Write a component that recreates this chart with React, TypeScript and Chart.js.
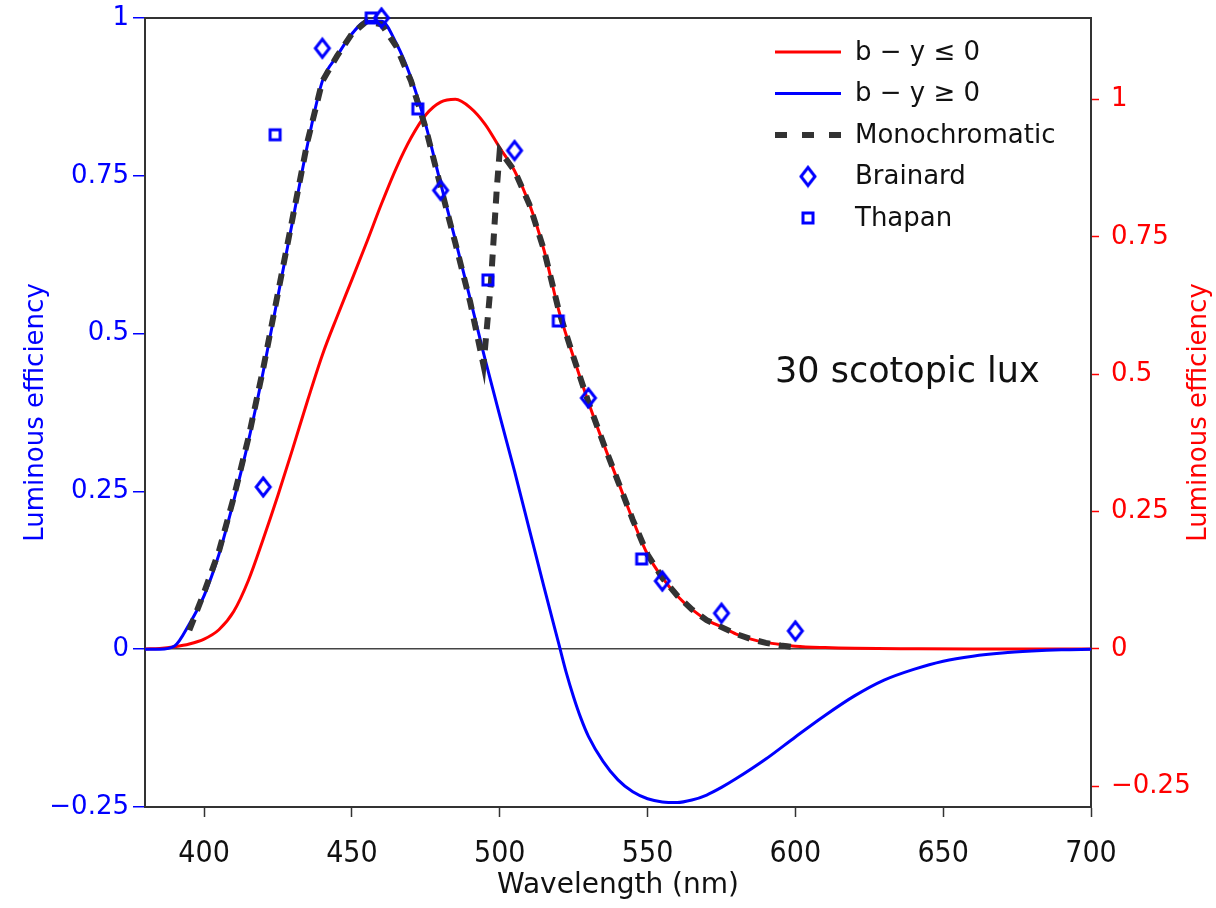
import React, { useEffect, useRef } from 'react';
import { Chart, registerables } from 'chart.js';
Chart.register(...registerables);

// ---- data ----
const blueWl = [380, 385, 390, 395, 400, 405, 410, 415, 420, 425, 430, 435, 440, 445, 450, 455, 460, 465, 470, 475, 480, 485, 490, 495, 500, 505, 510, 515, 520, 522.5, 525, 527.5, 530, 535, 540, 545, 550, 555, 560, 565, 570, 575, 580, 590, 600, 610, 620, 630, 640, 650, 660, 670, 680, 690, 700];
const blueVals = [0, 0, 0.005, 0.04, 0.085, 0.15, 0.235, 0.33, 0.44, 0.56, 0.68, 0.8, 0.9, 0.94, 0.975, 0.995, 0.995, 0.96, 0.905, 0.83, 0.738, 0.648, 0.555, 0.46, 0.37, 0.282, 0.19, 0.098, 0.008, -0.037, -0.076, -0.11, -0.138, -0.178, -0.207, -0.226, -0.237, -0.242, -0.243, -0.239, -0.231, -0.219, -0.205, -0.174, -0.139, -0.105, -0.074, -0.049, -0.032, -0.019, -0.011, -0.006, -0.003, -0.001, 0];

const redWl = [380, 385, 390, 395, 400, 405, 410, 415, 420, 425, 430, 435, 440, 445, 450, 455, 460, 465, 470, 475, 480, 485, 490, 495, 500, 505, 510, 515, 520, 525, 530, 535, 540, 545, 550, 555, 560, 565, 570, 575, 580, 585, 590, 595, 600, 610, 620, 640, 660, 680, 700];
const redVals = [0, 0.001, 0.004, 0.009, 0.018, 0.035, 0.068, 0.125, 0.2, 0.28, 0.365, 0.452, 0.535, 0.605, 0.672, 0.74, 0.81, 0.875, 0.93, 0.972, 0.995, 1.0, 0.985, 0.955, 0.912, 0.87, 0.81, 0.725, 0.615, 0.53, 0.449, 0.375, 0.305, 0.235, 0.172, 0.13, 0.097, 0.072, 0.053, 0.04, 0.027, 0.018, 0.012, 0.008, 0.005, 0.0025, 0.0012, 0.0004, 0, 0, 0];

const monoWl = [395, 400, 405, 410, 415, 420, 425, 430, 435, 440, 445, 450, 455, 460, 465, 470, 475, 480, 485, 490, 494.5, 497, 499, 500, 505, 510, 515, 520, 525, 530, 535, 540, 545, 550, 555, 560, 565, 570, 575, 580, 585, 590, 595, 600];
const monoVals = [0.03, 0.09, 0.155, 0.24, 0.335, 0.445, 0.565, 0.685, 0.805, 0.9, 0.94, 0.975, 0.995, 0.99, 0.955, 0.9, 0.825, 0.733, 0.643, 0.55, 0.45, 0.58, 0.73, 0.79, 0.758, 0.705, 0.632, 0.536, 0.462, 0.391, 0.327, 0.266, 0.205, 0.15, 0.113, 0.085, 0.063, 0.046, 0.035, 0.024, 0.016, 0.01, 0.006, 0.003];

const brainardWl = [420, 440, 460, 480, 505, 530, 555, 575, 600];
const brainardVals = [0.257, 0.952, 1.0, 0.727, 0.79, 0.398, 0.108, 0.057, 0.029];

const thapanWl = [424, 456.5, 472.3, 496, 519.8, 548];
const thapanVals = [0.815, 1.0, 0.856, 0.585, 0.52, 0.143];

const xTicks = [400, 450, 500, 550, 600, 650, 700];
const leftTicks = [-0.25, 0, 0.25, 0.5, 0.75, 1];
const rightTicks = [-0.25, 0, 0.25, 0.5, 0.75, 1];

const legendLabels = ['b \u2212 y \u2264 0', 'b \u2212 y \u2265 0', 'Monochromatic', 'Brainard', 'Thapan'];
const annotationText = '30 scotopic lux';
const xTitle = 'Wavelength (nm)';
const yTitle = 'Luminous efficiency';

const BLUE = '#0000ff';
const RED = '#ff0000';
const DASH = '#333333';
const FRAME = '#333333';
const SANS = "'DejaVu Sans', Verdana, sans-serif";
const NARROW = "'Liberation Sans Narrow', 'DejaVu Sans Condensed', 'DejaVu Sans', sans-serif";

const toXY = (xs: number[], ys: number[]) => xs.map((x, i) => ({ x, y: ys[i] }));
const fmt = (v: number) => (v < 0 ? '\u2212' + String(-v) : String(v));

function makeDiamond(): HTMLCanvasElement {
  const c = document.createElement('canvas');
  c.width = 20;
  c.height = 24;
  const g = c.getContext('2d')!;
  g.strokeStyle = BLUE;
  g.lineWidth = 3;
  g.lineJoin = 'miter';
  g.beginPath();
  g.moveTo(10, 3);
  g.lineTo(17, 12);
  g.lineTo(10, 21);
  g.lineTo(3, 12);
  g.closePath();
  g.stroke();
  return c;
}

function makeSquare(): HTMLCanvasElement {
  const c = document.createElement('canvas');
  c.width = 16;
  c.height = 16;
  const g = c.getContext('2d')!;
  g.strokeStyle = BLUE;
  g.lineWidth = 3;
  g.strokeRect(3, 3, 10, 10);
  return c;
}

export default function App() {
  const ref = useRef<HTMLCanvasElement | null>(null);

  useEffect(() => {
    const canvas = ref.current;
    if (!canvas) return;
    const diamond = makeDiamond();
    const square = makeSquare();

    const extras = {
      id: 'extras',
      beforeDatasetsDraw(chart: any) {
        const { ctx, chartArea } = chart;
        ctx.save();
        ctx.strokeStyle = FRAME;
        ctx.lineWidth = 2;
        ctx.beginPath();
        ctx.moveTo(chartArea.left, chartArea.top);
        ctx.lineTo(chartArea.right, chartArea.top);
        ctx.stroke();
        ctx.restore();
      },
      afterDraw(chart: any) {
        const { ctx, chartArea } = chart;
        ctx.save();
        // right axis title (reads bottom-to-top like the left one)
        const y1 = chart.scales.y1;
        ctx.translate(y1.right - 17, (chartArea.top + chartArea.bottom) / 2);
        ctx.rotate(-Math.PI / 2);
        ctx.fillStyle = RED;
        ctx.font = `26px ${SANS}`;
        ctx.textAlign = 'center';
        ctx.textBaseline = 'middle';
        ctx.fillText(yTitle, 0, 0);
        ctx.restore();

        // legend
        ctx.save();
        const lx0 = chartArea.right - 316;
        const lx1 = lx0 + 66;
        const tx = lx0 + 80;
        const ty0 = chartArea.top + 34;
        const step = 41.5;
        ctx.font = `26px ${SANS}`;
        ctx.textBaseline = 'middle';
        ctx.textAlign = 'left';
        legendLabels.forEach((lab, i) => {
          const y = ty0 + i * step;
          if (i < 3) {
            ctx.beginPath();
            ctx.moveTo(lx0, y);
            ctx.lineTo(lx1, y);
            if (i === 0) { ctx.strokeStyle = RED; ctx.lineWidth = 3; ctx.setLineDash([]); }
            if (i === 1) { ctx.strokeStyle = BLUE; ctx.lineWidth = 3; ctx.setLineDash([]); }
            if (i === 2) { ctx.strokeStyle = DASH; ctx.lineWidth = 6; ctx.setLineDash([12, 15]); }
            ctx.stroke();
            ctx.setLineDash([]);
          } else {
            const img = i === 3 ? diamond : square;
            ctx.drawImage(img, (lx0 + lx1) / 2 - img.width / 2, y - img.height / 2);
          }
          ctx.fillStyle = '#111';
          ctx.fillText(lab, tx, y + 1);
        });
        // annotation
        ctx.font = `35px ${SANS}`;
        ctx.fillStyle = '#111';
        ctx.fillText(annotationText, lx0, chartArea.top + 355);
        ctx.restore();
      },
    };

    const chart = new Chart(canvas, {
      type: 'line',
      data: {
        datasets: [
          {
            label: legendLabels[3],
            data: toXY(brainardWl, brainardVals),
            showLine: false,
            pointStyle: diamond as any,
            pointRadius: 9,
            yAxisID: 'y',
            order: 0,
            clip: false as any,
          },
          {
            label: legendLabels[4],
            data: toXY(thapanWl, thapanVals),
            showLine: false,
            pointStyle: square as any,
            pointRadius: 8,
            yAxisID: 'y',
            order: 0,
            clip: false as any,
          },
          {
            label: legendLabels[2],
            data: toXY(monoWl, monoVals),
            borderColor: DASH,
            borderWidth: 6,
            borderDash: [12, 9],
            pointRadius: 0,
            tension: 0,
            yAxisID: 'y',
            order: 1,
          },
          {
            label: legendLabels[1],
            data: toXY(blueWl, blueVals),
            borderColor: BLUE,
            borderWidth: 3,
            pointRadius: 0,
            cubicInterpolationMode: 'monotone',
            yAxisID: 'y',
            order: 2,
          },
          {
            label: legendLabels[0],
            data: toXY(redWl, redVals),
            borderColor: RED,
            borderWidth: 3,
            pointRadius: 0,
            cubicInterpolationMode: 'monotone',
            yAxisID: 'y1',
            order: 3,
          },
        ],
      },
      options: {
        responsive: false,
        animation: false,
        events: [],
        layout: { padding: { top: 18, left: 0, right: 0, bottom: 0 } },
        plugins: { legend: { display: false }, tooltip: { enabled: false }, title: { display: false } },
        scales: {
          x: {
            type: 'linear',
            position: 'bottom',
            min: 380,
            max: 700,
            afterBuildTicks: (s: any) => { s.ticks = xTicks.map((v) => ({ value: v })); },
            afterFit: (s: any) => { s.height = 101; s.paddingLeft = 0; s.paddingRight = 0; },
            grid: { drawOnChartArea: false, drawTicks: true, tickLength: 10, tickColor: FRAME, tickWidth: 1.5 },
            border: { display: true, color: FRAME, width: 2 },
            ticks: { color: '#111', font: { family: NARROW, size: 30 }, padding: 19, autoSkip: false, maxRotation: 0, callback: (v: any) => String(v) },
            title: { display: true, text: xTitle, color: '#111', font: { family: SANS, size: 28 }, padding: { top: 0, bottom: 5 } },
          },
          y: {
            type: 'linear',
            position: 'left',
            min: -0.25,
            max: 1,
            afterBuildTicks: (s: any) => { s.ticks = leftTicks.map((v) => ({ value: v })); },
            afterFit: (s: any) => { s.width = 145; s.paddingTop = 0; s.paddingBottom = 0; },
            grid: {
              drawOnChartArea: true,
              drawTicks: true,
              tickLength: 12,
              tickColor: BLUE,
              tickWidth: 1.5,
              color: (c: any) => (c.tick && c.tick.value === 0 ? '#444444' : 'rgba(0,0,0,0)'),
              lineWidth: 1.5,
            },
            border: { display: true, color: FRAME, width: 2 },
            ticks: { color: BLUE, font: { family: SANS, size: 26 }, padding: 4, autoSkip: false, callback: (v: any) => fmt(Number(v)) },
            title: { display: true, text: yTitle, color: BLUE, font: { family: SANS, size: 26 }, padding: { top: 21, bottom: 0 } },
          },
          y1: {
            type: 'linear',
            position: 'right',
            min: -0.2875,
            max: 1.148,
            afterBuildTicks: (s: any) => { s.ticks = rightTicks.map((v) => ({ value: v })); },
            afterFit: (s: any) => { s.width = 125; s.paddingTop = 0; s.paddingBottom = 0; },
            grid: { drawOnChartArea: false, drawTicks: true, tickLength: 8, tickColor: RED, tickWidth: 1.5 },
            border: { display: true, color: FRAME, width: 2 },
            ticks: { color: RED, font: { family: SANS, size: 26 }, padding: 12, autoSkip: false, callback: (v: any) => fmt(Number(v)) },
            title: { display: false },
          },
        },
      },
      plugins: [extras],
    } as any);

    return () => chart.destroy();
  }, []);

  return (
    <div style={{ position: 'absolute', left: 0, top: 0, width: 1216, height: 908, background: '#fff' }}>
      <canvas ref={ref} width={1216} height={908} style={{ display: 'block' }} />
    </div>
  );
}
